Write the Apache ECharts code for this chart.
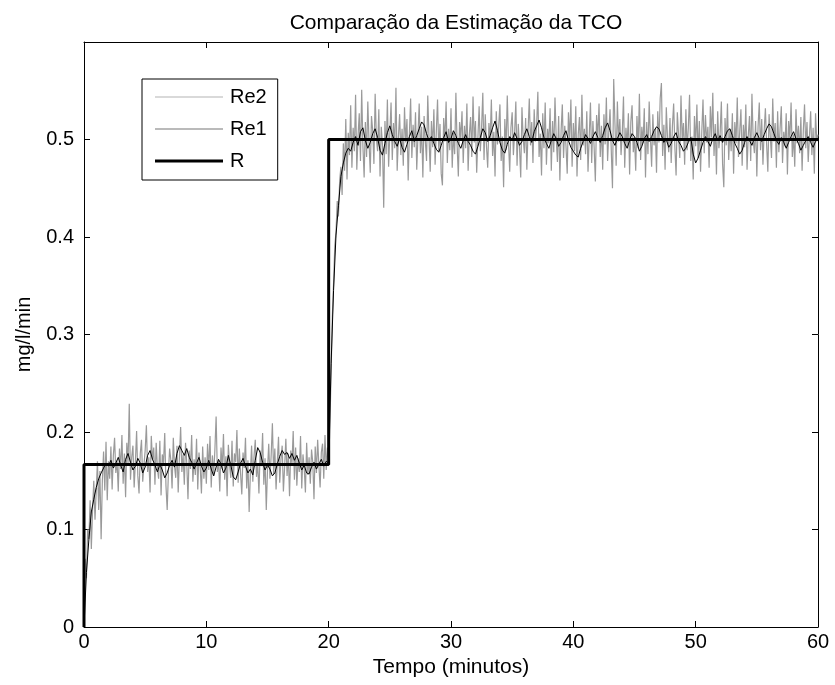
<!DOCTYPE html>
<html>
<head>
<meta charset="utf-8">
<script src="https://cdn.jsdelivr.net/npm/echarts@6/dist/echarts.min.js"></script>
<style>html,body{margin:0;padding:0;background:#fff;}#chart{width:835px;height:685px;}</style>
</head>
<body>
<div id="chart"></div>
<script>
// Re2: sampled every 0.1 min, t = 0 .. 60
const re2Step = 0.1;
const re2Values = [
0, 0.07, 0.05, 0.10, 0.09, 0.13, 0.08, 0.12, 0.15, 0.11, 0.14, 0.17, 0.12, 0.16, 0.09, 0.15, 0.18, 0.14, 0.19, 0.13, 0.17,
0.152, 0.185, 0.141, 0.176, 0.194, 0.158, 0.171, 0.139, 0.183,
0.162, 0.197, 0.147, 0.178, 0.133, 0.189, 0.168, 0.229, 0.151, 0.174,
0.186, 0.143, 0.169, 0.201, 0.155, 0.137, 0.178, 0.192, 0.149, 0.166,
0.181, 0.207, 0.159, 0.174, 0.138, 0.196, 0.171, 0.184, 0.146, 0.189,
0.163, 0.152, 0.191, 0.135, 0.177, 0.168, 0.199, 0.145, 0.120, 0.158,
0.183, 0.171, 0.142, 0.194, 0.165, 0.153, 0.186, 0.138, 0.174, 0.205,
0.159, 0.177, 0.146, 0.189, 0.168, 0.131, 0.181, 0.162, 0.197, 0.149,
0.172, 0.156, 0.193, 0.141, 0.179, 0.164, 0.137, 0.185, 0.152, 0.174,
0.147, 0.188, 0.161, 0.196, 0.143, 0.176, 0.155, 0.182, 0.216, 0.159,
0.171, 0.139, 0.184, 0.162, 0.198, 0.151, 0.175, 0.134, 0.187, 0.166,
0.153, 0.191, 0.144, 0.178, 0.169, 0.202, 0.148, 0.183, 0.157, 0.136,
0.179, 0.163, 0.194, 0.142, 0.171, 0.118, 0.158, 0.186, 0.149, 0.175,
0.192, 0.154, 0.168, 0.137, 0.181, 0.165, 0.199, 0.146, 0.173, 0.120,
0.161, 0.188, 0.152, 0.176, 0.209, 0.157, 0.183, 0.141, 0.169, 0.195,
0.148, 0.172, 0.186, 0.139, 0.164, 0.193, 0.155, 0.178, 0.134, 0.181,
0.167, 0.201, 0.151, 0.184, 0.145, 0.173, 0.159, 0.196, 0.142, 0.177,
0.163, 0.138, 0.189, 0.156, 0.174, 0.147, 0.182, 0.169, 0.131, 0.185,
0.158, 0.192, 0.166, 0.143, 0.179, 0.188, 0.152, 0.197, 0.161, 0.184,
0.171,
0.205, 0.262, 0.318, 0.352, 0.391, 0.405, 0.437, 0.421, 0.458,
0.472, 0.443, 0.496, 0.468, 0.521, 0.459, 0.507, 0.484, 0.535, 0.471,
0.512, 0.488, 0.546, 0.469, 0.503, 0.527, 0.478, 0.551, 0.493, 0.461,
0.518, 0.482, 0.539, 0.497, 0.466, 0.524, 0.509, 0.475, 0.547, 0.501,
0.488, 0.531, 0.462, 0.513, 0.494, 0.430, 0.519, 0.485, 0.541, 0.472,
0.506, 0.538, 0.479, 0.517, 0.491, 0.553, 0.468, 0.502, 0.526, 0.484,
0.511, 0.473, 0.533, 0.497, 0.521, 0.458, 0.506, 0.542, 0.481, 0.515,
0.492, 0.528, 0.469, 0.504, 0.537, 0.486, 0.513, 0.461, 0.524, 0.499,
0.478, 0.545, 0.503, 0.467, 0.519, 0.492, 0.531, 0.474, 0.508, 0.541,
0.487, 0.516, 0.465, 0.453, 0.522, 0.498, 0.539, 0.476, 0.511, 0.489,
0.532, 0.471, 0.507, 0.485, 0.548, 0.494, 0.462, 0.518, 0.501, 0.529,
0.476, 0.514, 0.491, 0.537, 0.468, 0.505, 0.523, 0.482, 0.544, 0.497,
0.519, 0.466, 0.502, 0.534, 0.488, 0.512, 0.548, 0.479, 0.526, 0.493,
0.471, 0.517, 0.499, 0.541, 0.483, 0.508, 0.462, 0.529, 0.495, 0.514,
0.536, 0.478, 0.503, 0.451, 0.521, 0.489, 0.545, 0.497, 0.467, 0.512,
0.528, 0.484, 0.507, 0.539, 0.473, 0.516, 0.492, 0.461, 0.533, 0.501,
0.486, 0.522, 0.469, 0.509, 0.542, 0.494, 0.518, 0.476, 0.531, 0.498,
0.515, 0.549, 0.482, 0.506, 0.463, 0.527, 0.491, 0.538, 0.474, 0.511,
0.496, 0.532, 0.468, 0.519, 0.487, 0.543, 0.502, 0.477, 0.524, 0.458,
0.509, 0.536, 0.481, 0.514, 0.493, 0.465, 0.528, 0.499, 0.541, 0.472,
0.517, 0.488, 0.534, 0.462, 0.505, 0.523, 0.479, 0.546, 0.494, 0.511,
0.485, 0.529, 0.467, 0.503, 0.538, 0.476, 0.519, 0.492, 0.457, 0.525,
0.501, 0.537, 0.482, 0.514, 0.469, 0.526, 0.495, 0.543, 0.478, 0.508,
0.531, 0.489, 0.450, 0.562, 0.517, 0.473, 0.539, 0.498, 0.521, 0.484,
0.506, 0.544, 0.471, 0.512, 0.493, 0.527, 0.464, 0.518, 0.535, 0.487,
0.502, 0.468, 0.524, 0.491, 0.547, 0.479, 0.513, 0.496, 0.532, 0.461,
0.518, 0.485, 0.539, 0.503, 0.472, 0.526, 0.494, 0.511, 0.466, 0.529,
0.497, 0.542, 0.558, 0.483, 0.515, 0.469, 0.533, 0.501, 0.487, 0.522,
0.476, 0.514, 0.537, 0.492, 0.463, 0.528, 0.505, 0.481, 0.545, 0.499,
0.517, 0.474, 0.531, 0.489, 0.512, 0.546, 0.478, 0.503, 0.459, 0.524,
0.493, 0.536, 0.481, 0.519, 0.467, 0.508, 0.541, 0.486, 0.525, 0.497,
0.513, 0.471, 0.534, 0.502, 0.548, 0.483, 0.516, 0.464, 0.529, 0.491,
0.506, 0.539, 0.475, 0.451, 0.522, 0.494, 0.537, 0.479, 0.511, 0.488,
0.527, 0.465, 0.518, 0.496, 0.543, 0.482, 0.508, 0.531, 0.473, 0.515,
0.492, 0.536, 0.469, 0.504, 0.524, 0.478, 0.547, 0.501, 0.486, 0.519,
0.462, 0.513, 0.538, 0.489, 0.521, 0.474, 0.509, 0.532, 0.495, 0.467,
0.526, 0.503, 0.481, 0.542, 0.498, 0.517, 0.471, 0.529, 0.487, 0.511,
0.534, 0.476, 0.508, 0.493, 0.527, 0.464, 0.519, 0.501, 0.538, 0.482,
0.505, 0.472, 0.531, 0.496, 0.514, 0.486, 0.523, 0.468, 0.509, 0.536,
0.491, 0.518, 0.477, 0.503, 0.529, 0.484, 0.512, 0.465, 0.527, 0.498,
0.505
];

// Re1: sampled every 0.2 min, t = 0 .. 60
const re1Step = 0.2;
const re1Values = [
0, 0.056, 0.090, 0.118, 0.131, 0.143, 0.152, 0.158, 0.163, 0.168, 0.165,
0.171, 0.163, 0.168, 0.174, 0.166, 0.159, 0.172, 0.178, 0.169, 0.161,
0.165, 0.173, 0.168, 0.158, 0.164, 0.176, 0.181, 0.172, 0.166, 0.159,
0.167, 0.161, 0.153, 0.158, 0.166, 0.171, 0.164, 0.178, 0.186, 0.181,
0.176, 0.183, 0.174, 0.169, 0.162, 0.168, 0.174, 0.165, 0.159, 0.163,
0.171, 0.162, 0.155, 0.164, 0.172, 0.167, 0.158, 0.163, 0.176, 0.166,
0.154, 0.151, 0.159, 0.168, 0.173, 0.165, 0.158, 0.162, 0.156, 0.171,
0.184, 0.179, 0.169, 0.161, 0.166, 0.162, 0.155, 0.158, 0.167, 0.175,
0.181, 0.177, 0.179, 0.173, 0.178, 0.171, 0.176, 0.168, 0.161, 0.166,
0.158, 0.157, 0.164, 0.169, 0.162, 0.167, 0.172, 0.165, 0.170,
0.168, 0.270, 0.345, 0.402, 0.432, 0.462, 0.476, 0.486, 0.491, 0.488, 0.497,
0.503, 0.494, 0.508, 0.512, 0.499, 0.491, 0.497, 0.506, 0.511, 0.502,
0.489, 0.484, 0.496, 0.507, 0.514, 0.505, 0.498, 0.493, 0.501, 0.492,
0.487, 0.495, 0.503, 0.509, 0.498, 0.504, 0.511, 0.518, 0.515, 0.506,
0.499, 0.503, 0.496, 0.490, 0.487, 0.494, 0.502, 0.508, 0.497, 0.501,
0.509, 0.504, 0.496, 0.491, 0.499, 0.505, 0.498, 0.494, 0.488, 0.485,
0.493, 0.502, 0.511, 0.507, 0.498, 0.504, 0.512, 0.519, 0.509, 0.497,
0.489, 0.486, 0.495, 0.503, 0.499, 0.507, 0.501, 0.494, 0.498, 0.505,
0.511, 0.503, 0.497, 0.508, 0.514, 0.520, 0.512, 0.502, 0.496, 0.491,
0.499, 0.506, 0.501, 0.493, 0.497, 0.504, 0.509, 0.499, 0.492, 0.488,
0.484, 0.482, 0.491, 0.498, 0.505, 0.501, 0.496, 0.503, 0.508, 0.502,
0.497, 0.504, 0.512, 0.517, 0.509, 0.499, 0.494, 0.501, 0.507, 0.503,
0.496, 0.491, 0.499, 0.506, 0.503, 0.497, 0.488, 0.493, 0.501, 0.505,
0.498, 0.503, 0.509, 0.513, 0.511, 0.504, 0.497, 0.500, 0.492, 0.496,
0.503, 0.507, 0.498, 0.494, 0.488, 0.491, 0.497, 0.502, 0.485, 0.476,
0.481, 0.489, 0.497, 0.503, 0.498, 0.493, 0.501, 0.506, 0.499, 0.504,
0.497, 0.503, 0.509, 0.511, 0.504, 0.496, 0.491, 0.485, 0.489, 0.497,
0.503, 0.499, 0.494, 0.502, 0.507, 0.501, 0.498, 0.505, 0.511, 0.516,
0.513, 0.506, 0.499, 0.495, 0.502, 0.497, 0.491, 0.497, 0.503, 0.508,
0.501, 0.496, 0.489, 0.494, 0.499, 0.503, 0.497, 0.492, 0.498,
0.501
];

// R: reference step
const rTimes = [0, 0, 20, 20, 60];
const rValues = [0, 0.1667, 0.1667, 0.5, 0.5];

const xTicks = [0, 10, 20, 30, 40, 50, 60];
const yTicks = [0, 0.1, 0.2, 0.3, 0.4, 0.5, 0.6];

const FONT = '"Liberation Sans", Arial, Helvetica, sans-serif';

const toPairs = (vals, step) => vals.map((v, i) => [+(i * step).toFixed(2), v]);
const re2Data = toPairs(re2Values, re2Step);
const re1Data = toPairs(re1Values, re1Step);
const rData = rTimes.map((t, i) => [t, rValues[i]]);

const chart = echarts.init(document.getElementById('chart'), null, {renderer: 'canvas'});

const baseX = {
  type: 'value', min: xTicks[0], max: xTicks[xTicks.length - 1], interval: 10,
  axisLine: {show: true, onZero: false, lineStyle: {color: '#000', width: 1}},
  axisTick: {show: true, inside: true, length: 6, lineStyle: {color: '#000'}},
  splitLine: {show: false}
};
const baseY = {
  type: 'value', min: yTicks[0], max: yTicks[yTicks.length - 1], interval: 0.1,
  axisLine: {show: true, onZero: false, lineStyle: {color: '#000', width: 1}},
  axisTick: {show: true, inside: true, length: 6, lineStyle: {color: '#000'}},
  splitLine: {show: false}
};

chart.setOption({
  animation: false,
  backgroundColor: '#fff',
  title: {
    text: 'Comparação da Estimação da TCO',
    left: 451, top: 8, textAlign: 'center',
    textStyle: {fontFamily: FONT, fontSize: 21, fontWeight: 'normal', color: '#000'}
  },
  grid: {left: 84, right: 17, top: 42, bottom: 58, containLabel: false},
  legend: {
    orient: 'vertical', left: 142, top: 79,
    padding: [8, 11, 9, 13],
    itemWidth: 68, itemHeight: 14, itemGap: 12,
    borderColor: '#000', borderWidth: 1, backgroundColor: '#fff',
    textStyle: {fontFamily: FONT, fontSize: 20, color: '#000', padding: [0, 0, 0, 2]},
    data: [
      {name: 'Re2', icon: 'path://M0,0 L68,0 L68,1 L0,1 Z', itemStyle: {color: '#b4b4b4'}},
      {name: 'Re1', icon: 'path://M0,0 L68,0 L68,1 L0,1 Z', itemStyle: {color: '#777'}},
      {name: 'R', icon: 'path://M0,0 L68,0 L68,3 L0,3 Z', itemStyle: {color: '#000'}}
    ]
  },
  xAxis: [
    Object.assign({}, baseX, {
      position: 'bottom',
      name: 'Tempo (minutos)', nameLocation: 'middle', nameGap: 25,
      nameTextStyle: {fontFamily: FONT, fontSize: 21, color: '#000'},
      axisLabel: {show: true, color: '#000', fontFamily: FONT, fontSize: 20, margin: 5}
    }),
    Object.assign({}, baseX, {position: 'top', axisLabel: {show: false}})
  ],
  yAxis: [
    Object.assign({}, baseY, {
      position: 'left',
      name: 'mg/l/min', nameLocation: 'middle', nameGap: 50, nameRotate: 90,
      nameTextStyle: {fontFamily: FONT, fontSize: 20, color: '#000'},
      axisLabel: {show: true, showMaxLabel: false, color: '#000', fontFamily: FONT, fontSize: 20, margin: 10,
        formatter: v => String(+v.toFixed(1))}
    }),
    Object.assign({}, baseY, {position: 'right', axisLabel: {show: false}})
  ],
  series: [
    {name: 'Re2', type: 'line', data: re2Data, showSymbol: false, symbol: 'none',
      lineStyle: {color: '#9a9a9a', width: 1.2}, itemStyle: {color: '#9a9a9a'}, z: 2},
    {name: 'Re1', type: 'line', data: re1Data, showSymbol: false, symbol: 'none',
      lineStyle: {color: '#000', width: 1}, itemStyle: {color: '#000'}, z: 3},
    {name: 'R', type: 'line', data: rData, showSymbol: false, symbol: 'none',
      lineStyle: {color: '#000', width: 3}, itemStyle: {color: '#000'}, z: 4}
  ]
});
</script>
</body>
</html>
